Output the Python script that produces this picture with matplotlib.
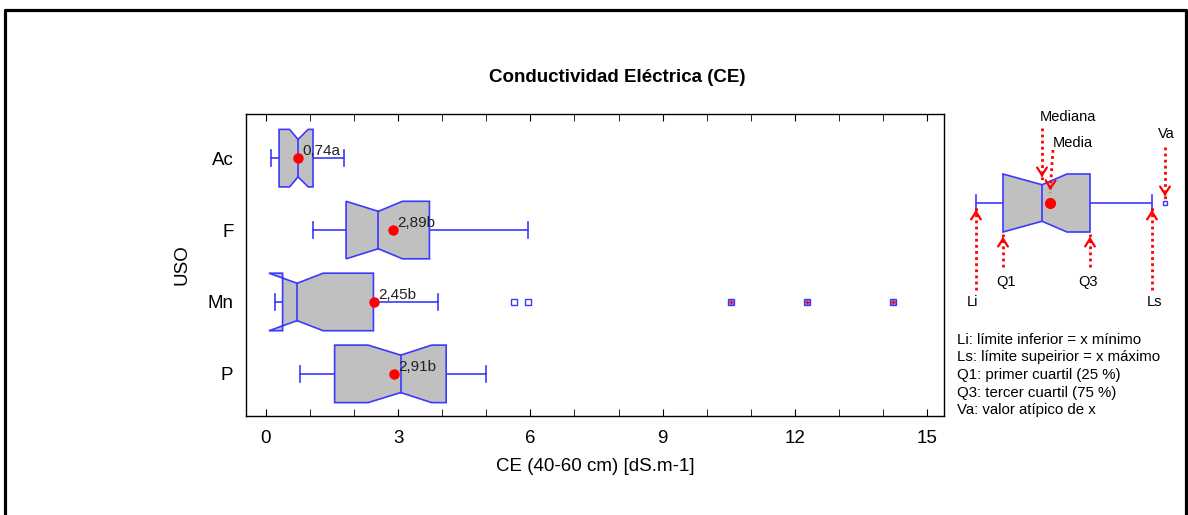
import matplotlib.pyplot as plt
from matplotlib.patches import Polygon
from matplotlib.lines import Line2D

plt.rcParams['font.family'] = ['Liberation Sans', 'DejaVu Sans']

# CE por uso del suelo (40-60 cm)
usos = ['Ac', 'F', 'Mn', 'P']
q1 = [0.30, 1.82, 0.38, 1.56]
mediana = [0.73, 2.55, 0.71, 3.06]
q3 = [1.07, 3.71, 2.44, 4.09]
li = [0.11, 1.07, 0.20, 0.78]
ls = [1.77, 5.95, 3.90, 4.99]
notch_lo = [0.54, 1.82, 0.07, 2.32]
notch_hi = [0.96, 3.10, 1.30, 3.76]
media = [0.74, 2.89, 2.45, 2.91]
letras = ['a', 'b', 'b', 'b']
# valores atipicos de Mn
mn_atipicos = [5.63, 5.94]
mn_muy_atipicos = [10.55, 12.28, 14.23]

AZUL = '#3a3aff'
GRIS = '#c0c0c0'
ROJO = '#ff0000'


def caja(ax, y, lo, q_1, med, q_3, hi, n_lo, n_hi, h=0.4, waist=0.65, cap=0.11):
    hw = h * waist
    pts = [(q_1, y - h), (n_lo, y - h), (med, y - hw), (n_hi, y - h), (q_3, y - h),
           (q_3, y + h), (n_hi, y + h), (med, y + hw), (n_lo, y + h), (q_1, y + h)]
    ax.add_patch(Polygon(pts, closed=True, facecolor=GRIS, edgecolor=AZUL, lw=1.2, zorder=2))
    ax.plot([med, med], [y - hw, y + hw], color=AZUL, lw=1.2, zorder=3)
    ax.plot([lo, q_1], [y, y], color=AZUL, lw=1.2, zorder=1)
    ax.plot([q_3, hi], [y, y], color=AZUL, lw=1.2, zorder=1)
    ax.plot([lo, lo], [y - cap, y + cap], color=AZUL, lw=1.2)
    ax.plot([hi, hi], [y - cap, y + cap], color=AZUL, lw=1.2)


fig = plt.figure(figsize=(11.88, 5.15), dpi=100)
W, H = 1188, 515
ax = fig.add_axes([246 / W, 1 - 416 / H, (944 - 246) / W, (416 - 114) / H])

pos = list(range(1, len(usos) + 1))
for i, y in enumerate(pos):
    caja(ax, y, li[i], q1[i], mediana[i], q3[i], ls[i], notch_lo[i], notch_hi[i])
    ax.plot(media[i], y, 'o', color=ROJO, ms=6.5, zorder=4)
    ax.annotate(f"{media[i]:.2f}".replace('.', ',') + letras[i], (media[i], y),
                xytext=(3, 5), textcoords='offset points', fontsize=11,
                va='center', ha='left', color='#222222', zorder=5)

y_mn = pos[usos.index('Mn')]
ax.plot(mn_atipicos, [y_mn] * len(mn_atipicos), 's', ms=4, mfc='white', mec=AZUL, mew=1)
ax.plot(mn_muy_atipicos, [y_mn] * len(mn_muy_atipicos), 's', ms=4, mfc='#9a7fd0', mec=AZUL, mew=1)
ax.plot(mn_muy_atipicos, [y_mn] * len(mn_muy_atipicos), '+', ms=3.5, color=ROJO, mew=0.9)

ax.set_xlim(-0.45, 15.38)
ax.set_ylim(4.586, 0.386)
ax.set_xticks([0, 3, 6, 9, 12, 15])
ax.set_xticks(range(0, 16), minor=True)
ax.set_yticks(pos)
ax.set_yticklabels(usos)
ax.tick_params(axis='x', which='both', direction='in', top=True, length=5, labelsize=13.5, pad=10)
ax.tick_params(axis='y', length=0, labelsize=13.5, pad=9)
for s in ax.spines.values():
    s.set_linewidth(1.0)
ax.set_xlabel('CE (40-60 cm) [dS.m-1]', fontsize=13.5, labelpad=8)
ax.set_ylabel('USO', fontsize=13.5, labelpad=12)

fig.text(617 / W, 1 - 78 / H, 'Conductividad Eléctrica (CE)', fontsize=13.5,
         fontweight='bold', ha='center', va='center')

# esquema explicativo del diagrama de caja
esq = fig.add_axes([950 / W, 1 - 320 / H, 235 / W, 220 / H])
esq.set_xlim(-2.6, 20.9)
esq.set_ylim(-11.7, 10.3)
esq.axis('off')
e_li, e_q1, e_med, e_q3, e_ls, e_va = 0.0, 2.7, 6.6, 11.4, 17.6, 18.9
e_media, e_nhi = 7.4, 9.1
caja(esq, 0, e_li, e_q1, e_med, e_q3, e_ls, e_q1, e_nhi, h=2.9, waist=0.63, cap=0.85)
esq.plot(e_media, 0, 'o', color=ROJO, ms=7, zorder=4)
esq.plot(e_va, 0, 's', ms=3.5, mfc='white', mec=AZUL, mew=1)

flechas = [
    (e_med, 7.5, e_med, 2.3),
    (7.7, 5.3, 7.4, 1.0),
    (e_va, 5.6, e_va, 0.4),
    (e_li, -8.7, e_li, -0.4),
    (e_q1, -6.4, e_q1, -3.1),
    (e_q3, -6.4, e_q3, -3.1),
    (e_ls, -8.7, e_ls, -0.4),
]
for x0, y0, x1, y1 in flechas:
    esq.plot([x0, x1], [y0, y1], color=ROJO, lw=2, ls=(0, (1, 1.2)), zorder=5)
    fx = x1 + (x0 - x1) * 0.15
    fy = y1 + (0.9 if y0 > y1 else -0.9)
    esq.annotate('', xy=(x1, y1), xytext=(fx, fy),
                 arrowprops=dict(arrowstyle='->,head_width=0.35,head_length=0.55',
                                 color=ROJO, lw=1.6), zorder=6)

etiquetas = [
    ('Mediana', 9.2, 8.6), ('Media', 9.7, 6.0), ('Va', 19.0, 6.9),
    ('Li', -0.3, -9.9), ('Q1', 3.0, -7.9), ('Q3', 11.2, -7.9), ('Ls', 17.8, -9.9),
]
for t, x, y in etiquetas:
    esq.text(x, y, t, fontsize=10.5, ha='center', va='center')

leyenda = [
    'Li: límite inferior = x mínimo',
    'Ls: límite supeirior = x máximo',
    'Q1: primer cuartil (25 %)',
    'Q3: tercer cuartil (75 %)',
    'Va: valor atípico de x',
]
for k, linea in enumerate(leyenda):
    fig.text(957 / W, 1 - (340 + 17.5 * k) / H, linea, fontsize=10.8, ha='left', va='center')

# marco exterior
bx0, bx1, by = 4.5 / W, 1185.5 / W, 1 - 9.5 / H
fig.add_artist(Line2D([bx0, bx0, bx1, bx1], [0, by, by, 0], color='black', lw=2.3,
                      transform=fig.transFigure))

fig.savefig('out.png', dpi=100)
